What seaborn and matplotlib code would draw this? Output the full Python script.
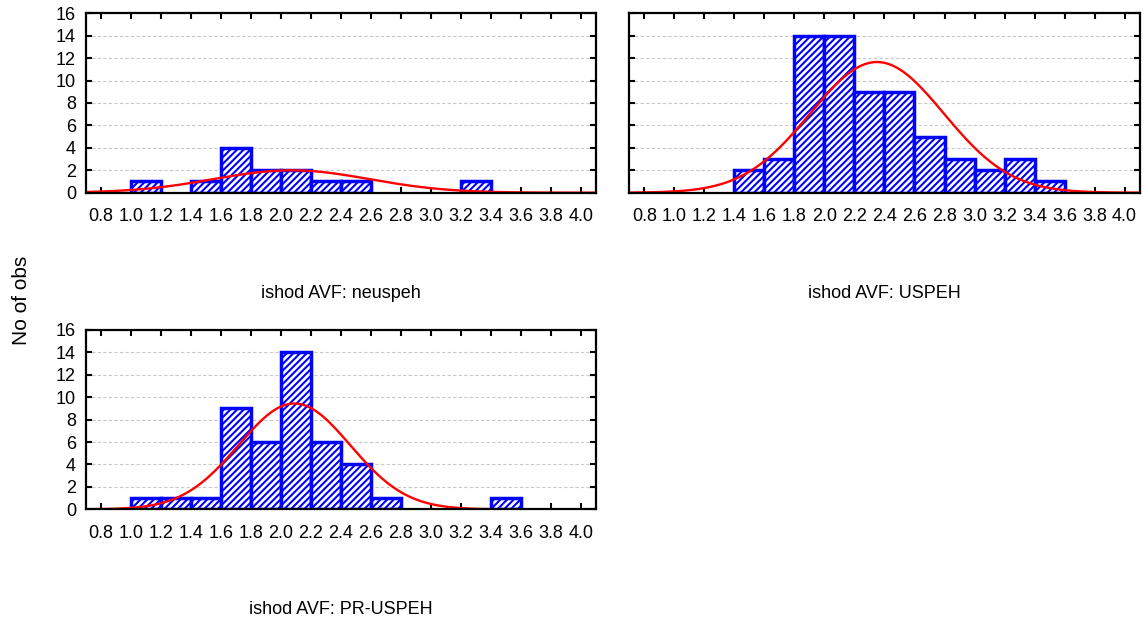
import numpy as np
import pandas as pd
import matplotlib
matplotlib.use('Agg')
import matplotlib.pyplot as plt
import seaborn as sns

# histogram counts per group (left edge of each 0.2-wide bin)
neuspeh_bins = [1.0, 1.4, 1.6, 1.8, 2.0, 2.2, 2.4, 3.2]
neuspeh_counts = [1, 1, 4, 2, 2, 1, 1, 1]

uspeh_bins = [1.4, 1.6, 1.8, 2.0, 2.2, 2.4, 2.6, 2.8, 3.0, 3.2, 3.4]
uspeh_counts = [2, 3, 14, 14, 9, 9, 5, 3, 2, 3, 1]

pruspeh_bins = [1.0, 1.2, 1.4, 1.6, 1.8, 2.0, 2.2, 2.4, 2.6, 3.4]
pruspeh_counts = [1, 1, 1, 9, 6, 14, 6, 4, 1, 1]

# fitted normal curve parameters
fit_mean = [2.07, 2.35, 2.09]
fit_sd = [0.52, 0.445, 0.372]

titles = ['ishod AVF: neuspeh', 'ishod AVF: USPEH', 'ishod AVF: PR-USPEH']
xticks = [0.8, 1.0, 1.2, 1.4, 1.6, 1.8, 2.0, 2.2, 2.4, 2.6, 2.8, 3.0, 3.2, 3.4, 3.6, 3.8, 4.0]
yticks = [0, 2, 4, 6, 8, 10, 12, 14, 16]
binw = 0.2

sns.set_theme(style='white')
plt.rcParams['font.family'] = ['Liberation Sans', 'DejaVu Sans']
plt.rcParams['text.color'] = 'black'
plt.rcParams['xtick.color'] = 'black'
plt.rcParams['ytick.color'] = 'black'
plt.rcParams['hatch.color'] = 'blue'
plt.rcParams['hatch.linewidth'] = 1.5

fig = plt.figure(figsize=(11.48, 6.24), dpi=100)
positions = [(0.0747, 0.6912), (0.5482, 0.6912), (0.0747, 0.1838)]
groups = [(neuspeh_bins, neuspeh_counts), (uspeh_bins, uspeh_counts), (pruspeh_bins, pruspeh_counts)]
edges = [round(v, 2) for v in np.arange(0.8, 4.0001, binw)]

for i, ((bins, counts), pos) in enumerate(zip(groups, positions)):
    ax = fig.add_axes([pos[0], pos[1], 0.4445, 0.2875])
    df = pd.DataFrame({'x': np.array(bins) + binw / 2, 'n': counts})
    sns.histplot(data=df, x='x', weights='n', bins=edges, ax=ax,
                 color='white', edgecolor='blue', linewidth=2.5,
                 hatch='/////', alpha=1)
    for p in ax.patches:
        if p.get_height() == 0:
            p.set_visible(False)

    # normal fit scaled to counts
    n = sum(counts)
    xs = np.linspace(0.7, 4.1, 300)
    ys = n * binw * np.exp(-0.5 * ((xs - fit_mean[i]) / fit_sd[i]) ** 2) / (fit_sd[i] * np.sqrt(2 * np.pi))
    sns.lineplot(x=xs, y=ys, ax=ax, color='red', linewidth=1.7)

    ax.set_xlim(0.7, 4.1)
    ax.set_ylim(0, 16)
    ax.set_xticks(xticks)
    ax.set_xticklabels([f'{t:.1f}' for t in xticks], fontsize=13)
    ax.set_yticks(yticks)
    if i == 1:
        ax.set_yticklabels([])
    else:
        ax.set_yticklabels([str(t) for t in yticks], fontsize=13)
    ax.tick_params(axis='x', direction='in', top=True, bottom=True, length=4, width=1.5, pad=11)
    ax.tick_params(axis='y', direction='in', left=True, right=True, length=4, width=1.5, pad=7)
    ax.yaxis.grid(True, linestyle=(0, (3, 2)), color='#c8c8c8', linewidth=0.8)
    ax.set_axisbelow(True)
    for s in ax.spines.values():
        s.set_color('black')
        s.set_linewidth(1.6)
    ax.set_xlabel('')
    ax.set_ylabel('')
    ax.text(0.5, -0.56, titles[i], transform=ax.transAxes, ha='center', va='center', fontsize=13)

fig.text(22 / 1148, 1 - 300 / 624, 'No of obs', rotation=90, ha='center', va='center', fontsize=15)

fig.savefig('out.png', dpi=100)
